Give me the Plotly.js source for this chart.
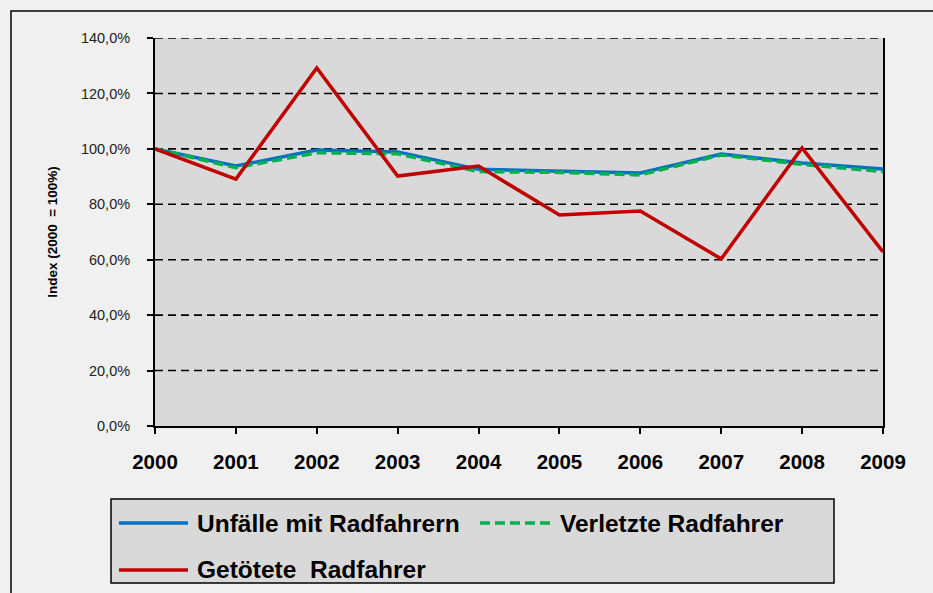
<!DOCTYPE html>
<html>
<head>
<meta charset="utf-8">
<script src="https://cdn.plot.ly/plotly-3.0.1.min.js"></script>
<style>html,body{margin:0;padding:0;background:#f0f0f0;}#chart{width:933px;height:593px;}</style>
</head>
<body>
<div id="chart"></div>
<script>
const years = ["2000","2001","2002","2003","2004","2005","2006","2007","2008","2009"];
const unfaelle = [100.0, 93.8, 99.6, 98.9, 92.6, 92.0, 91.3, 98.1, 94.9, 92.7];
const verletzte = [100.0, 93.2, 98.6, 98.2, 91.8, 91.5, 90.6, 97.8, 94.4, 91.8];
const getoetete = [100.0, 89.1, 129.2, 90.2, 93.8, 76.1, 77.6, 60.3, 100.3, 62.8];
const seriesNames = ["Unfälle mit Radfahrern", "Verletzte Radfahrer", "Getötete  Radfahrer"];
const seriesColors = ["#0070c0", "#00b050", "#c00000"];
const seriesDash = ["solid", "10px,5px", "solid"];
const yTicks = [0, 20, 40, 60, 80, 100, 120, 140];
const yTickText = ["0,0%", "20,0%", "40,0%", "60,0%", "80,0%", "100,0%", "120,0%", "140,0%"];

const font = "Liberation Sans, Arial, sans-serif";
const seriesValues = [unfaelle, verletzte, getoetete];
const traces = seriesValues.map((vals, i) => ({
  x: years, y: vals, name: seriesNames[i], type: "scatter", mode: "lines",
  showlegend: false,
  line: {color: seriesColors[i], width: 3.5, dash: seriesDash[i]}
}));

const gridShapes = yTicks.filter(v => v > 0).map(v => ({
  type: "line", xref: "paper", yref: "y", x0: 0, x1: 1, y0: v, y1: v,
  line: {color: "#000", width: 1.6, dash: "8px,5px"}, layer: "below"
}));

// Legend (drawn as shapes + annotations, in paper coordinates)
const legendSlots = [
  {lx0: -0.0495, lx1: 0.0453, tx: 0.0549, y: -0.250},
  {lx0: 0.4464, lx1: 0.5426, tx: 0.5536, y: -0.250},
  {lx0: -0.0495, lx1: 0.0453, tx: 0.0549, y: -0.3711}
];
const legendShapes = [{
  type: "rect", xref: "paper", yref: "paper",
  x0: -0.0604, x1: 0.9327, y0: -0.4046, y1: -0.1881,
  line: {color: "#000", width: 1.5}, fillcolor: "#d9d9d9", layer: "below"
}].concat(legendSlots.map((s, i) => ({
  type: "line", xref: "paper", yref: "paper",
  x0: s.lx0, x1: s.lx1, y0: s.y, y1: s.y,
  line: {color: seriesColors[i], width: 3.5, dash: seriesDash[i]}
})));
const legendAnn = legendSlots.map((s, i) => ({
  xref: "paper", yref: "paper", x: s.tx, y: s.y, xanchor: "left", yanchor: "middle",
  text: seriesNames[i].replace(/  /g, " \u00a0"), showarrow: false,
  font: {family: font, size: 24.5, color: "#000", weight: "bold"}
}));

const layout = {
  width: 933, height: 593,
  margin: {l: 155, r: 50, t: 38, b: 167},
  paper_bgcolor: "#f0f0f0",
  plot_bgcolor: "#d9d9d9",
  font: {family: font, color: "#000"},
  showlegend: false,
  xaxis: {
    type: "category", range: [0, 9], showgrid: false, zeroline: false,
    showline: true, linecolor: "#000", linewidth: 2,
    ticks: "outside", ticklen: 6, tickcolor: "#000", tickwidth: 2,
    ticklabelstandoff: 10,
    tickfont: {family: font, size: 20.5, color: "#000", weight: "bold"}
  },
  yaxis: {
    range: [0, 140], tickvals: yTicks, ticktext: yTickText,
    showgrid: false, zeroline: false,
    showline: true, mirror: true, linecolor: "#000", linewidth: 2,
    ticks: "outside", ticklen: 6, tickcolor: "#000", tickwidth: 2,
    ticklabelstandoff: 14,
    tickfont: {family: font, size: 14.5, color: "#222"},
    title: {text: "Index (2000 \u00a0= 100%)", standoff: 20,
            font: {family: font, size: 13.5, color: "#000", weight: "bold"}}
  },
  annotations: legendAnn,
  shapes: gridShapes.concat([{
    type: "rect", xref: "paper", yref: "paper",
    x0: -0.1978, x1: 1.3, y0: -0.6, y1: 1.0696,
    line: {color: "#000", width: 1.5}, fillcolor: "rgba(0,0,0,0)", layer: "below"
  }]).concat(legendShapes)
};
Plotly.newPlot("chart", traces, layout, {displayModeBar: false, staticPlot: true});
</script>
</body>
</html>
